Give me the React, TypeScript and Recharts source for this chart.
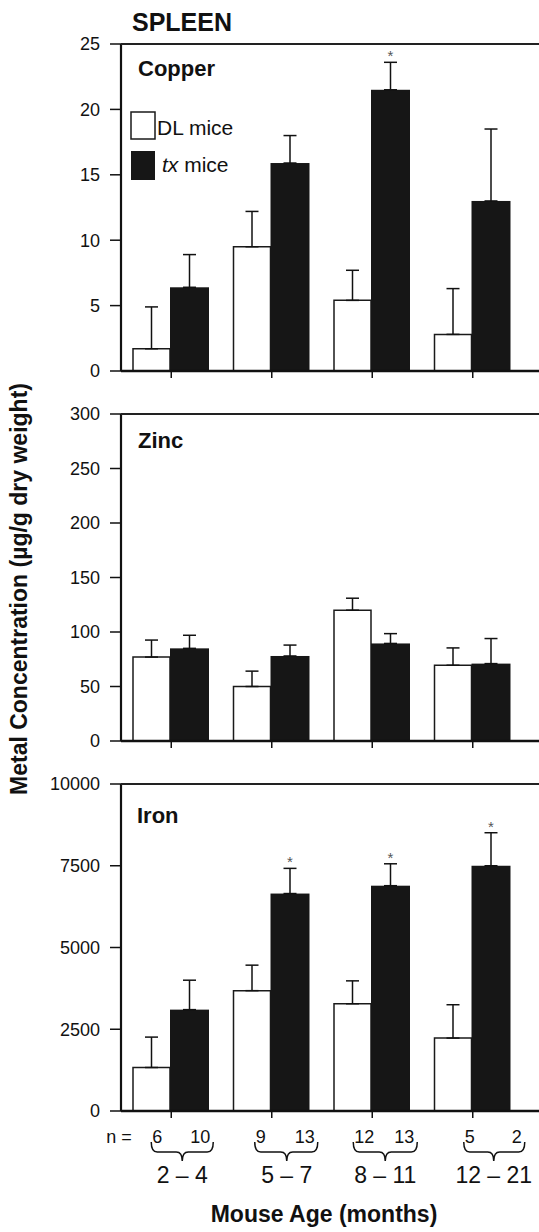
import React from "react";
import { Bar, BarChart, ErrorBar, ReferenceLine, XAxis, YAxis } from "recharts";

const AGES = ["2 – 4", "5 – 7", "8 – 11", "12 – 21"];
const N_DL = [6, 9, 12, 5];
const N_TX = [10, 13, 13, 2];

const CU_DL = [1.7, 9.5, 5.4, 2.8];
const CU_DL_ERR = [3.2, 2.7, 2.3, 3.5];
const CU_TX = [6.4, 15.9, 21.5, 13.0];
const CU_TX_ERR = [2.5, 2.1, 2.1, 5.5];
const CU_SIG = [false, false, true, false];
const CU_TICKS = [0, 5, 10, 15, 20, 25];

const ZN_DL = [77, 50, 120, 69.5];
const ZN_DL_ERR = [15.6, 14.1, 11, 15.9];
const ZN_TX = [85, 78, 89.5, 71];
const ZN_TX_ERR = [12, 10, 9, 23];
const ZN_SIG = [false, false, false, false];
const ZN_TICKS = [0, 50, 100, 150, 200, 250, 300];

const FE_DL = [1330, 3680, 3280, 2230];
const FE_DL_ERR = [930, 780, 700, 1020];
const FE_TX = [3100, 6650, 6890, 7500];
const FE_TX_ERR = [900, 770, 670, 1010];
const FE_SIG = [false, true, true, true];
const FE_TICKS = [0, 2500, 5000, 7500, 10000];

// brace layout, offsets from the category centre
const BRACE_L = [-20, -17, -19, -9];
const BRACE_R = [42, 46, 45, 52];
const BRACE_TIP = [11, 15, 13, 21];

const FONT = "'Liberation Sans', Arial, Helvetica, sans-serif";
const W = 539;
const H = 390;
const PLOT_TOP = 44;
const PLOT_LEFT = 121;
const PANEL_TOPS = [0, 370, 740];

function rows(dl: number[], dlErr: number[], tx: number[], txErr: number[], sig: boolean[]) {
  return AGES.map((age, i) => ({
    age,
    dl: dl[i],
    dlErr: dlErr[i],
    tx: tx[i],
    txErr: txErr[i],
    sig: sig[i],
  }));
}

function TxShape(props: any) {
  const { x, y, width, height, payload } = props;
  const ratio = payload.tx ? height / payload.tx : 0;
  const capY = y - payload.txErr * ratio;
  return (
    <g>
      <rect x={x} y={y} width={width} height={height} fill="#161616" />
      {payload.sig && (
        <text x={x + width / 2} y={capY - 1} textAnchor="middle" fontSize={15} fill="#555" fontFamily={FONT}>
          *
        </text>
      )}
    </g>
  );
}

function EmptyTick() {
  return <g />;
}

function AgeTick(props: any) {
  const { x, y, payload } = props;
  const i = payload.index;
  const base = y - 7;
  const l = x + BRACE_L[i];
  const r = x + BRACE_R[i];
  const t = x + BRACE_TIP[i];
  const top = base + 31;
  const mid = base + 41;
  const tip = base + 50;
  const path =
    `M${l},${top} Q${l},${mid} ${l + 6},${mid} L${t - 6},${mid} Q${t},${mid} ${t},${tip} ` +
    `Q${t},${mid} ${t + 6},${mid} L${r - 6},${mid} Q${r},${mid} ${r},${top}`;
  return (
    <g fontFamily={FONT} fill="#111">
      {i === 0 && (
        <text x={x - 65} y={base + 32} fontSize={18}>
          n =
        </text>
      )}
      <text x={l + 1} y={base + 32} fontSize={18}>
        {N_DL[i]}
      </text>
      <text x={r - 3} y={base + 32} fontSize={18} textAnchor="end">
        {N_TX[i]}
      </text>
      <path d={path} fill="none" stroke="#111" strokeWidth={1.5} />
      <text x={t} y={base + 72} fontSize={23} textAnchor="middle">
        {payload.value}
      </text>
    </g>
  );
}

function Panel({
  data,
  ticks,
  height,
  xHeight,
  bottomTicks,
}: {
  data: ReturnType<typeof rows>;
  ticks: number[];
  height: number;
  xHeight: number;
  bottomTicks?: boolean;
}) {
  const max = ticks[ticks.length - 1];
  return (
    <BarChart
      width={W}
      height={height}
      data={data}
      margin={{ top: PLOT_TOP, right: 0, left: 0, bottom: 0 }}
      barGap={0}
      barCategoryGap={0}
    >
      <XAxis
        dataKey="age"
        padding={{ left: 0, right: 16 }}
        height={xHeight}
        axisLine={{ stroke: "#111", strokeWidth: 2.5 }}
        tickLine={{ stroke: "#111", strokeWidth: 1.5 }}
        tickSize={7}
        tickMargin={0}
        interval={0}
        tick={bottomTicks ? <AgeTick /> : <EmptyTick />}
      />
      <YAxis
        width={PLOT_LEFT}
        domain={[0, max]}
        ticks={ticks}
        interval={0}
        axisLine={{ stroke: "#111", strokeWidth: 2.2 }}
        tickLine={{ stroke: "#111", strokeWidth: 1.5 }}
        tickSize={11}
        tickMargin={10}
        tick={{ fontSize: 18, fill: "#111", fontFamily: FONT }}
      />
      {/* top edge of the frame */}
      <ReferenceLine y={max} ifOverflow="visible" stroke="#222" strokeWidth={2} />
      <Bar dataKey="dl" fill="#ffffff" stroke="#1a1a1a" strokeWidth={1.5} barSize={37} isAnimationActive={false}>
        <ErrorBar dataKey={(d: any) => [0, d.dlErr]} width={6.5} stroke="#111" strokeWidth={1.5} direction="y" />
      </Bar>
      <Bar dataKey="tx" fill="#161616" barSize={39} shape={<TxShape />} isAnimationActive={false}>
        <ErrorBar dataKey={(d: any) => [0, d.txErr]} width={6.5} stroke="#111" strokeWidth={1.5} direction="y" />
      </Bar>
    </BarChart>
  );
}

export default function App() {
  const cu = rows(CU_DL, CU_DL_ERR, CU_TX, CU_TX_ERR, CU_SIG);
  const zn = rows(ZN_DL, ZN_DL_ERR, ZN_TX, ZN_TX_ERR, ZN_SIG);
  const fe = rows(FE_DL, FE_DL_ERR, FE_TX, FE_TX_ERR, FE_SIG);

  return (
    <div style={{ position: "absolute", left: 0, top: 0, width: W, height: 1232, background: "#fff", overflow: "hidden" }}>
      <div style={{ position: "absolute", left: 0, top: PANEL_TOPS[0] }}>
        <Panel data={cu} ticks={CU_TICKS} height={H} xHeight={19} />
      </div>
      <div style={{ position: "absolute", left: 0, top: PANEL_TOPS[1] }}>
        <Panel data={zn} ticks={ZN_TICKS} height={H} xHeight={19} />
      </div>
      <div style={{ position: "absolute", left: 0, top: PANEL_TOPS[2] }}>
        <Panel data={fe} ticks={FE_TICKS} height={492} xHeight={121} bottomTicks />
      </div>
      <svg
        width={W}
        height={1232}
        style={{ position: "absolute", left: 0, top: 0, pointerEvents: "none" }}
        fontFamily={FONT}
      >
        {/* top edge of each panel frame, drawn again in case the reference line is hidden */}
        {PANEL_TOPS.map((t) => (
          <rect key={t} x={PLOT_LEFT} y={t + PLOT_TOP - 1} width={W - PLOT_LEFT} height={2} fill="#222" />
        ))}
        <text x={132} y={31} fontSize={25} fontWeight="bold" fill="#111">
          SPLEEN
        </text>
        <text x={138} y={76} fontSize={22} fontWeight="bold" fill="#111">
          Copper
        </text>
        <text x={138} y={448} fontSize={22} fontWeight="bold" fill="#111">
          Zinc
        </text>
        <text x={137} y={823} fontSize={22} fontWeight="bold" fill="#111">
          Iron
        </text>
        <rect x={131} y={112} width={24} height={27} fill="#fff" stroke="#1a1a1a" strokeWidth={1.5} />
        <text x={157} y={135} fontSize={21} fill="#111">
          DL mice
        </text>
        <rect x={131} y={151} width={24} height={29} fill="#161616" />
        <text x={162} y={172} fontSize={21} fill="#111">
          <tspan fontStyle="italic">tx</tspan> mice
        </text>
        <text
          transform="translate(27,589) rotate(-90)"
          textAnchor="middle"
          fontSize={23}
          fontWeight="bold"
          fill="#111"
        >
          Metal Concentration (µg/g dry weight)
        </text>
        <text x={324} y={1222} textAnchor="middle" fontSize={23} fontWeight="bold" fill="#111">
          Mouse Age (months)
        </text>
      </svg>
    </div>
  );
}
